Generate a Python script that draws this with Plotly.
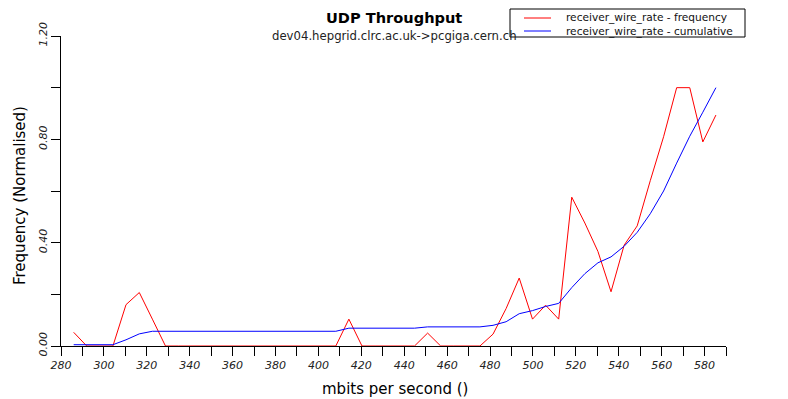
import plotly.graph_objects as go

# ---- data ----
rate_mbits = [285.9, 292.0, 298.1, 304.2, 310.3, 316.5, 322.6, 328.7, 334.8, 340.9,
              347.0, 353.1, 359.2, 365.3, 371.4, 377.6, 383.7, 389.8, 395.9, 402.0,
              408.1, 414.2, 420.3, 426.4, 432.5, 438.7, 444.8, 450.9, 457.0, 463.1,
              469.2, 475.3, 481.4, 487.5, 493.6, 499.8, 505.9, 512.0, 518.1, 524.2,
              530.3, 536.4, 542.5, 548.6, 554.7, 560.9, 567.0, 573.1, 579.2, 585.3]

frequency = [0.053, 0.0, 0.0, 0.0, 0.160, 0.207, 0.104, 0.0, 0.0, 0.0,
             0.0, 0.0, 0.0, 0.0, 0.0, 0.0, 0.0, 0.0, 0.0, 0.0,
             0.0, 0.104, 0.0, 0.0, 0.0, 0.0, 0.0, 0.050, 0.0, 0.0,
             0.0, 0.0, 0.046, 0.145, 0.263, 0.104, 0.158, 0.104, 0.576, 0.476,
             0.366, 0.210, 0.390, 0.465, 0.640, 0.810, 1.000, 1.000, 0.790, 0.894]

cumulative = [0.005, 0.005, 0.005, 0.005, 0.024, 0.047, 0.057, 0.057, 0.057, 0.057,
              0.057, 0.057, 0.057, 0.057, 0.057, 0.057, 0.057, 0.057, 0.057, 0.057,
              0.057, 0.069, 0.069, 0.069, 0.069, 0.069, 0.069, 0.074, 0.074, 0.074,
              0.074, 0.074, 0.080, 0.094, 0.125, 0.137, 0.153, 0.165, 0.226, 0.280,
              0.322, 0.345, 0.386, 0.440, 0.512, 0.600, 0.708, 0.812, 0.905, 1.000]

x_tick_vals = [280, 290, 300, 310, 320, 330, 340, 350, 360, 370, 380, 390, 400, 410,
               420, 430, 440, 450, 460, 470, 480, 490, 500, 510, 520, 530, 540, 550,
               560, 570, 580, 590]
x_tick_text = ["280", "", "300", "", "320", "", "340", "", "360", "", "380", "", "400", "",
               "420", "", "440", "", "460", "", "480", "", "500", "", "520", "", "540", "",
               "560", "", "580", ""]
y_tick_vals = [0.0, 0.2, 0.4, 0.6, 0.8, 1.0, 1.2]
y_tick_text = ["0.00", "", "0.40", "", "0.80", "", "1.20"]

title_text = "UDP Throughput"
subtitle_text = "dev04.hepgrid.clrc.ac.uk->pcgiga.cern.ch"
x_title = "mbits per second ()"
y_title = "Frequency (Normalised)"
series_names = ["receiver_wire_rate - frequency", "receiver_wire_rate - cumulative"]
series_colors = ["#ff0000", "#0000ff"]

FONT = "DejaVu Sans"
W, H = 788, 399
L, R, T, B = 61, 62, 36, 53
PW, PH = W - L - R, H - T - B


def px(xp):
    return (xp - L) / PW


def py(yp):
    return (H - B - yp) / PH


fig = go.Figure()
for name, ys, col in zip(series_names, [frequency, cumulative], series_colors):
    fig.add_trace(go.Scatter(x=rate_mbits, y=ys, mode="lines", name=name,
                             line=dict(color=col, width=1), showlegend=False))

axis_common = dict(showline=True, linecolor="black", linewidth=1, mirror=False,
                   showgrid=False, zeroline=False, ticks="outside", ticklen=9,
                   tickwidth=1, tickcolor="black", automargin=False,
                   tickfont=dict(family=FONT, size=11, color="#222222", style="italic"))

fig.update_xaxes(range=[280, 590], tickmode="array", tickvals=x_tick_vals,
                 ticktext=x_tick_text, **axis_common)
fig.update_yaxes(range=[0, 1.2], tickmode="array", tickvals=y_tick_vals,
                 ticktext=y_tick_text, tickangle=-90, **axis_common)

# legend box (drawn in paper coordinates)
shapes = [dict(type="rect", xref="paper", yref="paper",
               x0=px(510), x1=px(745), y0=py(37), y1=py(9),
               line=dict(color="black", width=1), fillcolor="white", layer="above")]
annotations = []
for i, (name, col) in enumerate(zip(series_names, series_colors)):
    yy = 18 + 13 * i
    shapes.append(dict(type="line", xref="paper", yref="paper",
                       x0=px(524), x1=px(551), y0=py(yy), y1=py(yy),
                       line=dict(color=col, width=1), layer="above"))
    annotations.append(dict(text=name, xref="paper", yref="paper",
                            x=px(564), y=py(yy), xanchor="left", yanchor="middle",
                            showarrow=False,
                            font=dict(family=FONT, size=10.6, color="#111111")))

annotations += [
    dict(text="<b>" + title_text + "</b>", xref="paper", yref="paper",
         x=px(393.5), y=py(18), xanchor="center", yanchor="middle", showarrow=False,
         font=dict(family=FONT, size=14.6, color="black")),
    dict(text=subtitle_text, xref="paper", yref="paper",
         x=px(394), y=py(36), xanchor="center", yanchor="middle", showarrow=False,
         font=dict(family=FONT, size=11.7, color="#222222")),
    dict(text=x_title, xref="paper", yref="paper",
         x=px(395), y=py(389), xanchor="center", yanchor="middle", showarrow=False,
         font=dict(family=FONT, size=15, color="black")),
    dict(text=y_title, xref="paper", yref="paper", textangle=-90,
         x=px(20), y=py(196), xanchor="center", yanchor="middle", showarrow=False,
         font=dict(family=FONT, size=15, color="black")),
]

fig.update_layout(
    width=W, height=H,
    margin=dict(l=L, r=R, t=T, b=B, autoexpand=False),
    paper_bgcolor="white", plot_bgcolor="white",
    font=dict(family=FONT, color="black"),
    showlegend=False,
    shapes=shapes,
    annotations=annotations,
)

fig.write_html("out.html", config={"displayModeBar": False},
               post_script="document.body.style.margin='0';document.body.style.padding='0';")
